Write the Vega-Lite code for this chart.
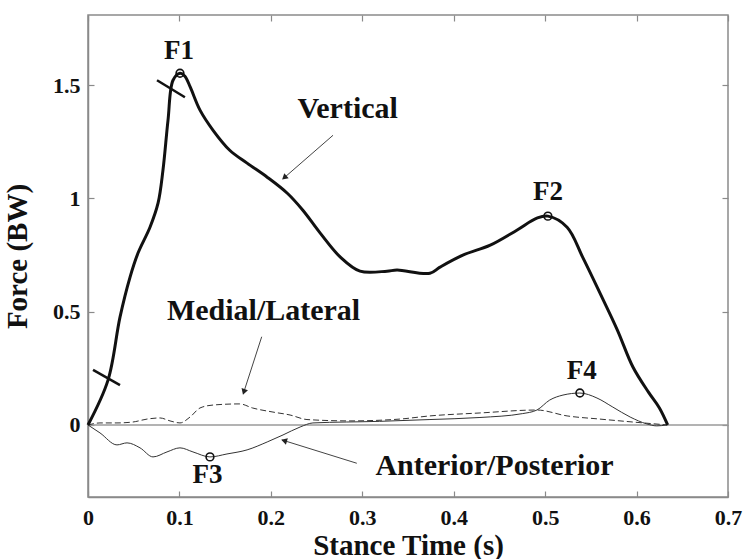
{
  "$schema": "https://vega.github.io/schema/vega-lite/v6.json",
  "width": 640,
  "height": 482,
  "autosize": {"type": "none"},
  "padding": {"left": 88, "top": 15, "right": 19, "bottom": 62},
  "background": "white",
  "config": {
    "view": {"stroke": "#8a8a8a", "strokeWidth": 1.5},
    "font": "Liberation Serif",
    "axis": {
      "grid": false,
      "domainColor": "#8a8a8a",
      "domainWidth": 1.5,
      "tickColor": "#8a8a8a",
      "tickWidth": 1.2,
      "tickSize": -6,
      "labelFont": "Liberation Serif",
      "labelFontWeight": "bold",
      "labelFontSize": 22,
      "labelColor": "#111111",
      "titleFont": "Liberation Serif",
      "titleFontWeight": "bold",
      "titleFontSize": 29,
      "titleColor": "#111111"
    }
  },
  "datasets": {
    "curves": [
      {"series": "Vertical", "t": 0, "F": 0},
      {"series": "Vertical", "t": 0.0219, "F": 0.198},
      {"series": "Vertical", "t": 0.035, "F": 0.476},
      {"series": "Vertical", "t": 0.046, "F": 0.653},
      {"series": "Vertical", "t": 0.0547, "F": 0.759},
      {"series": "Vertical", "t": 0.0678, "F": 0.873},
      {"series": "Vertical", "t": 0.0766, "F": 0.979},
      {"series": "Vertical", "t": 0.082, "F": 1.125},
      {"series": "Vertical", "t": 0.0875, "F": 1.345},
      {"series": "Vertical", "t": 0.093, "F": 1.522},
      {"series": "Vertical", "t": 0.1006, "F": 1.553},
      {"series": "Vertical", "t": 0.106, "F": 1.54},
      {"series": "Vertical", "t": 0.112, "F": 1.49},
      {"series": "Vertical", "t": 0.1225, "F": 1.39},
      {"series": "Vertical", "t": 0.137, "F": 1.3},
      {"series": "Vertical", "t": 0.155, "F": 1.213},
      {"series": "Vertical", "t": 0.174, "F": 1.156},
      {"series": "Vertical", "t": 0.196, "F": 1.094},
      {"series": "Vertical", "t": 0.218, "F": 1.023},
      {"series": "Vertical", "t": 0.235, "F": 0.948},
      {"series": "Vertical", "t": 0.254, "F": 0.847},
      {"series": "Vertical", "t": 0.276, "F": 0.741},
      {"series": "Vertical", "t": 0.2975, "F": 0.679},
      {"series": "Vertical", "t": 0.327, "F": 0.679},
      {"series": "Vertical", "t": 0.338, "F": 0.684},
      {"series": "Vertical", "t": 0.374, "F": 0.67},
      {"series": "Vertical", "t": 0.385, "F": 0.697},
      {"series": "Vertical", "t": 0.41, "F": 0.75},
      {"series": "Vertical", "t": 0.44, "F": 0.794},
      {"series": "Vertical", "t": 0.469, "F": 0.86},
      {"series": "Vertical", "t": 0.491, "F": 0.913},
      {"series": "Vertical", "t": 0.503, "F": 0.922},
      {"series": "Vertical", "t": 0.524, "F": 0.873},
      {"series": "Vertical", "t": 0.541, "F": 0.741},
      {"series": "Vertical", "t": 0.56, "F": 0.582},
      {"series": "Vertical", "t": 0.579, "F": 0.419},
      {"series": "Vertical", "t": 0.596, "F": 0.256},
      {"series": "Vertical", "t": 0.613, "F": 0.145},
      {"series": "Vertical", "t": 0.625, "F": 0.075},
      {"series": "Vertical", "t": 0.634, "F": 0},
      {"series": "Medial/Lateral", "t": 0, "F": 0},
      {"series": "Medial/Lateral", "t": 0.0131, "F": 0.009},
      {"series": "Medial/Lateral", "t": 0.0317, "F": 0.009},
      {"series": "Medial/Lateral", "t": 0.049, "F": 0.013},
      {"series": "Medial/Lateral", "t": 0.0645, "F": 0.026},
      {"series": "Medial/Lateral", "t": 0.0788, "F": 0.031},
      {"series": "Medial/Lateral", "t": 0.0897, "F": 0.018},
      {"series": "Medial/Lateral", "t": 0.1006, "F": 0.009},
      {"series": "Medial/Lateral", "t": 0.1116, "F": 0.035},
      {"series": "Medial/Lateral", "t": 0.1225, "F": 0.075},
      {"series": "Medial/Lateral", "t": 0.1367, "F": 0.088},
      {"series": "Medial/Lateral", "t": 0.166, "F": 0.093},
      {"series": "Medial/Lateral", "t": 0.18, "F": 0.075},
      {"series": "Medial/Lateral", "t": 0.2023, "F": 0.057},
      {"series": "Medial/Lateral", "t": 0.221, "F": 0.044},
      {"series": "Medial/Lateral", "t": 0.2395, "F": 0.024},
      {"series": "Medial/Lateral", "t": 0.2866, "F": 0.018},
      {"series": "Medial/Lateral", "t": 0.341, "F": 0.026},
      {"series": "Medial/Lateral", "t": 0.374, "F": 0.04},
      {"series": "Medial/Lateral", "t": 0.4287, "F": 0.053},
      {"series": "Medial/Lateral", "t": 0.491, "F": 0.066},
      {"series": "Medial/Lateral", "t": 0.524, "F": 0.04},
      {"series": "Medial/Lateral", "t": 0.56, "F": 0.026},
      {"series": "Medial/Lateral", "t": 0.596, "F": 0.013},
      {"series": "Medial/Lateral", "t": 0.634, "F": 0},
      {"series": "Anterior/Posterior", "t": 0, "F": 0},
      {"series": "Anterior/Posterior", "t": 0.0131, "F": -0.035},
      {"series": "Anterior/Posterior", "t": 0.0317, "F": -0.088},
      {"series": "Anterior/Posterior", "t": 0.0427, "F": -0.079},
      {"series": "Anterior/Posterior", "t": 0.0569, "F": -0.101},
      {"series": "Anterior/Posterior", "t": 0.0711, "F": -0.141},
      {"series": "Anterior/Posterior", "t": 0.0864, "F": -0.119},
      {"series": "Anterior/Posterior", "t": 0.1006, "F": -0.101},
      {"series": "Anterior/Posterior", "t": 0.1148, "F": -0.119},
      {"series": "Anterior/Posterior", "t": 0.1334, "F": -0.141},
      {"series": "Anterior/Posterior", "t": 0.152, "F": -0.128},
      {"series": "Anterior/Posterior", "t": 0.174, "F": -0.11},
      {"series": "Anterior/Posterior", "t": 0.196, "F": -0.075},
      {"series": "Anterior/Posterior", "t": 0.2133, "F": -0.044},
      {"series": "Anterior/Posterior", "t": 0.232, "F": -0.009},
      {"series": "Anterior/Posterior", "t": 0.246, "F": 0.009},
      {"series": "Anterior/Posterior", "t": 0.319, "F": 0.016},
      {"series": "Anterior/Posterior", "t": 0.374, "F": 0.024},
      {"series": "Anterior/Posterior", "t": 0.4287, "F": 0.033},
      {"series": "Anterior/Posterior", "t": 0.475, "F": 0.05},
      {"series": "Anterior/Posterior", "t": 0.491, "F": 0.066},
      {"series": "Anterior/Posterior", "t": 0.505, "F": 0.11},
      {"series": "Anterior/Posterior", "t": 0.5195, "F": 0.132},
      {"series": "Anterior/Posterior", "t": 0.538, "F": 0.141},
      {"series": "Anterior/Posterior", "t": 0.5567, "F": 0.119},
      {"series": "Anterior/Posterior", "t": 0.574, "F": 0.079},
      {"series": "Anterior/Posterior", "t": 0.593, "F": 0.035},
      {"series": "Anterior/Posterior", "t": 0.611, "F": 0.005},
      {"series": "Anterior/Posterior", "t": 0.622, "F": -0.004},
      {"series": "Anterior/Posterior", "t": 0.633, "F": 0}
    ],
    "markers": [
      {"name": "F1", "t": 0.1006, "F": 1.553},
      {"name": "F2", "t": 0.503, "F": 0.922},
      {"name": "F3", "t": 0.1334, "F": -0.141},
      {"name": "F4", "t": 0.538, "F": 0.141}
    ],
    "labels": [
      {"kind": "peak", "text": "F1", "t": 0.0995, "F": 1.652},
      {"kind": "peak", "text": "F2", "t": 0.503, "F": 1.03},
      {"kind": "peak", "text": "F3", "t": 0.1307, "F": -0.222},
      {"kind": "peak", "text": "F4", "t": 0.54, "F": 0.238},
      {"kind": "name", "text": "Vertical", "t": 0.284, "F": 1.395},
      {"kind": "name", "text": "Medial/Lateral", "t": 0.192, "F": 0.503},
      {"kind": "name", "text": "Anterior/Posterior", "t": 0.4446, "F": -0.18}
    ],
    "segs": [
      {"kind": "cross", "t": 0.0055, "F": 0.243, "t2": 0.035, "F2": 0.176},
      {"kind": "cross", "t": 0.0755, "F": 1.522, "t2": 0.106, "F2": 1.447},
      {"kind": "arrow", "t": 0.268, "F": 1.279, "t2": 0.2136, "F2": 1.088},
      {"kind": "arrow", "t": 0.19, "F": 0.3895, "t2": 0.17, "F2": 0.14},
      {"kind": "arrow", "t": 0.294, "F": -0.169, "t2": 0.212, "F2": -0.066}
    ],
    "heads": [
      {"t": 0.2155, "F": 1.095, "dir": 229},
      {"t": 0.1708, "F": 0.15, "dir": 198},
      {"t": 0.2155, "F": -0.0705, "dir": 287}
    ]
  },
  "resolve": {"axis": {"x": "independent", "y": "independent"}},
  "layer": [
    {
      "data": {"values": [{"z": 0}]},
      "mark": {"type": "rule", "color": "#9a9a9a", "strokeWidth": 1.6},
      "encoding": {
        "y": {"field": "z", "type": "quantitative", "scale": {"domain": [-0.318, 1.81], "nice": false, "zero": false}, "axis": null}
      }
    },
    {
      "data": {"name": "curves"},
      "transform": [{"filter": "datum.series === 'Medial/Lateral'"}],
      "mark": {"type": "line", "color": "#333333", "strokeWidth": 1, "strokeDash": [6, 3], "interpolate": "monotone"},
      "encoding": {
        "x": {"field": "t", "type": "quantitative", "axis": null},
        "y": {"field": "F", "type": "quantitative", "axis": null}
      }
    },
    {
      "data": {"name": "curves"},
      "transform": [{"filter": "datum.series === 'Anterior/Posterior'"}],
      "mark": {"type": "line", "color": "#333333", "strokeWidth": 1, "interpolate": "monotone"},
      "encoding": {
        "x": {"field": "t", "type": "quantitative", "axis": null},
        "y": {"field": "F", "type": "quantitative", "axis": null}
      }
    },
    {
      "data": {"name": "curves"},
      "transform": [{"filter": "datum.series === 'Vertical'"}],
      "mark": {"type": "line", "color": "#111111", "strokeWidth": 3, "interpolate": "catmull-rom"},
      "encoding": {
        "x": {
          "field": "t", "type": "quantitative",
          "scale": {"domain": [0, 0.7], "nice": false},
          "axis": {"values": [0, 0.1, 0.2, 0.3, 0.4, 0.5, 0.6, 0.7], "format": "~g", "title": "Stance Time (s)", "labelPadding": 16, "titlePadding": 3, "labelFlush": false}
        },
        "y": {
          "field": "F", "type": "quantitative",
          "axis": {"values": [0, 0.5, 1, 1.5], "format": "~g", "title": "Force (BW)", "labelPadding": 14, "titlePadding": 20}
        }
      }
    },
    {
      "data": {"name": "segs"},
      "transform": [{"filter": "datum.kind === 'cross'"}],
      "mark": {"type": "rule", "color": "#111111", "strokeWidth": 2.5},
      "encoding": {
        "x": {"field": "t", "type": "quantitative", "axis": null},
        "y": {"field": "F", "type": "quantitative", "axis": null},
        "x2": {"field": "t2"},
        "y2": {"field": "F2"}
      }
    },
    {
      "data": {"name": "segs"},
      "transform": [{"filter": "datum.kind === 'arrow'"}],
      "mark": {"type": "rule", "color": "#444444", "strokeWidth": 1},
      "encoding": {
        "x": {"field": "t", "type": "quantitative", "axis": null},
        "y": {"field": "F", "type": "quantitative", "axis": null},
        "x2": {"field": "t2"},
        "y2": {"field": "F2"}
      }
    },
    {
      "data": {"name": "heads"},
      "mark": {"type": "point", "shape": "triangle", "filled": true, "color": "#222222", "size": 45, "opacity": 1},
      "encoding": {
        "x": {"field": "t", "type": "quantitative", "axis": null},
        "y": {"field": "F", "type": "quantitative", "axis": null},
        "angle": {"field": "dir", "type": "quantitative", "scale": null}
      }
    },
    {
      "data": {"name": "markers"},
      "mark": {"type": "point", "shape": "circle", "filled": false, "color": "#111111", "strokeWidth": 1.6, "size": 60, "opacity": 1},
      "encoding": {
        "x": {"field": "t", "type": "quantitative", "axis": {"orient": "top", "values": [0, 0.1, 0.2, 0.3, 0.4, 0.5, 0.6, 0.7], "labels": false, "title": null, "domain": false}},
        "y": {"field": "F", "type": "quantitative", "axis": {"orient": "right", "values": [0, 0.5, 1, 1.5], "labels": false, "title": null, "domain": false}}
      }
    },
    {
      "data": {"name": "labels"},
      "transform": [{"filter": "datum.kind === 'peak'"}],
      "mark": {"type": "text", "font": "Liberation Serif", "fontWeight": "bold", "fontSize": 27, "color": "#111111", "baseline": "middle", "align": "center"},
      "encoding": {
        "x": {"field": "t", "type": "quantitative", "axis": null},
        "y": {"field": "F", "type": "quantitative", "axis": null},
        "text": {"field": "text"}
      }
    },
    {
      "data": {"name": "labels"},
      "transform": [{"filter": "datum.kind === 'name'"}],
      "mark": {"type": "text", "font": "Liberation Serif", "fontWeight": "bold", "fontSize": 30, "color": "#111111", "baseline": "middle", "align": "center"},
      "encoding": {
        "x": {"field": "t", "type": "quantitative", "axis": null},
        "y": {"field": "F", "type": "quantitative", "axis": null},
        "text": {"field": "text"}
      }
    }
  ]
}
